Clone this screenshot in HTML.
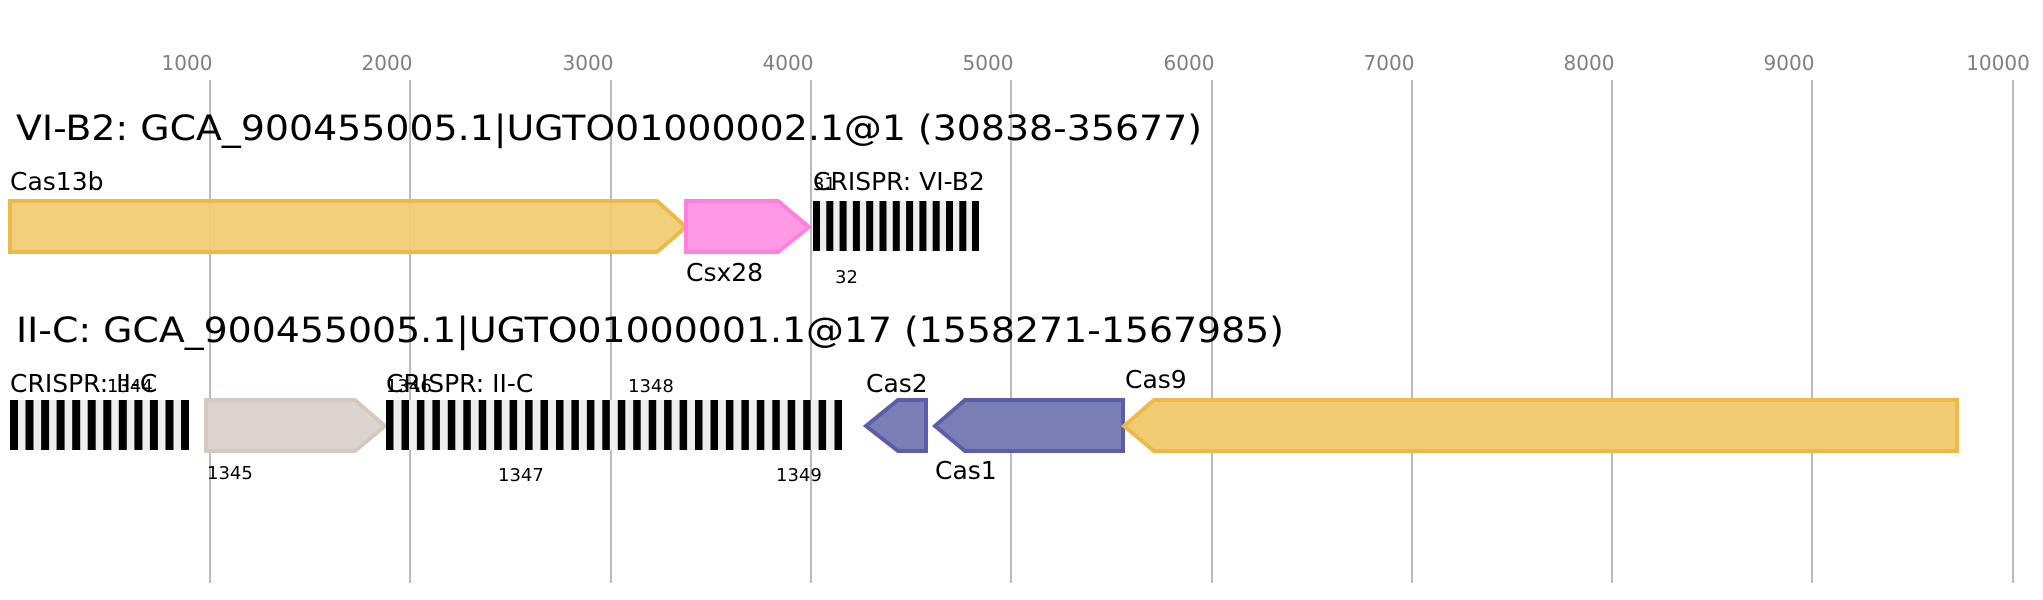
<!DOCTYPE html>
<html><head><meta charset="utf-8"><style>
html,body{margin:0;padding:0;background:#fff;}
svg{display:block;font-family:"DejaVu Sans","Liberation Sans",sans-serif;}
</style></head><body>
<svg width="2043" height="600" viewBox="0 0 2043 600" xmlns="http://www.w3.org/2000/svg">
<g stroke="#bbb" stroke-width="2">
<line x1="210" y1="80" x2="210" y2="583"/><line x1="410" y1="80" x2="410" y2="583"/>
<line x1="611" y1="80" x2="611" y2="583"/><line x1="811" y1="80" x2="811" y2="583"/>
<line x1="1011" y1="80" x2="1011" y2="583"/><line x1="1212" y1="80" x2="1212" y2="583"/>
<line x1="1412" y1="80" x2="1412" y2="583"/><line x1="1612" y1="80" x2="1612" y2="583"/>
<line x1="1812" y1="80" x2="1812" y2="583"/><line x1="2013" y1="80" x2="2013" y2="583"/>
</g>
<g fill="#808080" font-size="20" text-anchor="middle">
<text x="187" y="70">1000</text><text x="387" y="70">2000</text><text x="588" y="70">3000</text>
<text x="788" y="70">4000</text><text x="988" y="70">5000</text><text x="1189" y="70">6000</text>
<text x="1389" y="70">7000</text><text x="1589" y="70">8000</text><text x="1789" y="70">9000</text>
<text x="1998" y="70">10000</text>
</g>
<text x="16" y="140" font-size="35" textLength="1186" lengthAdjust="spacingAndGlyphs">VI-B2: GCA_900455005.1|UGTO01000002.1@1 (30838-35677)</text>
<text x="16" y="342" font-size="35" textLength="1268" lengthAdjust="spacingAndGlyphs">II-C: GCA_900455005.1|UGTO01000001.1@17 (1558271-1567985)</text>

<!-- row 1 -->
<polygon points="10,201 657,201 686,227 657,252 10,252" fill="#f1cc74" fill-opacity="0.95" stroke="#eeba47" stroke-width="4"/>
<polygon points="686,201 778,201 809,227 778,252 686,252" fill="#ff99e6" stroke="#ff80de" stroke-width="4"/>
<rect x="813" y="201" width="166" height="50" fill="#eee"/>
<text x="10" y="190" font-size="25">Cas13b</text>
<text x="686" y="281" font-size="25">Csx28</text>
<text x="813" y="190" font-size="25">CRISPR: VI-B2</text>
<text x="813" y="190" font-size="18">31</text>
<text x="835" y="283" font-size="18">32</text>

<!-- row 2 -->
<rect x="10" y="400" width="179" height="50" fill="#eee"/>
<polygon points="206,400 355,400 385,426 355,451 206,451" fill="#dbd4cf" stroke="#d5c8c0" stroke-width="4"/>
<rect x="386" y="400" width="456" height="50" fill="#eee"/>
<polygon points="926,400 898,400 866,426 898,451 926,451" fill="#7b7db5" stroke="#5a5ea8" stroke-width="4"/>
<polygon points="1123,400 965,400 935,426 965,451 1123,451" fill="#7b7db5" stroke="#5a5ea8" stroke-width="4"/>
<polygon points="1957,400 1154,400 1124,426 1154,451 1957,451" fill="#f1cc74" stroke="#eeba47" stroke-width="4"/>
<text x="10" y="392" font-size="25">CRISPR: II-C</text>
<text x="107" y="392" font-size="18">1344</text>
<text x="207" y="479" font-size="18">1345</text>
<text x="386" y="392" font-size="25">CRISPR: II-C</text>
<text x="386" y="392" font-size="18">1346</text>
<text x="498" y="481" font-size="18">1347</text>
<text x="628" y="392" font-size="18">1348</text>
<text x="776" y="481" font-size="18">1349</text>
<text x="866" y="392" font-size="25">Cas2</text>
<text x="935" y="479" font-size="25">Cas1</text>
<text x="1125" y="388" font-size="25">Cas9</text>

<!-- stripes -->
<g fill="#000">
<rect x="813" y="201" width="7" height="50"/><rect x="826.3" y="201" width="7" height="50"/><rect x="839.6" y="201" width="7" height="50"/><rect x="852.9" y="201" width="7" height="50"/><rect x="866.2" y="201" width="7" height="50"/><rect x="879.5" y="201" width="7" height="50"/><rect x="892.8" y="201" width="7" height="50"/><rect x="906.1" y="201" width="7" height="50"/><rect x="919.4" y="201" width="7" height="50"/><rect x="932.7" y="201" width="7" height="50"/><rect x="946" y="201" width="7" height="50"/><rect x="959.3" y="201" width="7" height="50"/><rect x="972" y="201" width="7" height="50"/>

<rect x="10" y="400" width="8" height="50"/><rect x="25.5" y="400" width="8" height="50"/><rect x="41.1" y="400" width="8" height="50"/><rect x="56.6" y="400" width="8" height="50"/><rect x="72.2" y="400" width="8" height="50"/><rect x="87.7" y="400" width="8" height="50"/><rect x="103.3" y="400" width="8" height="50"/><rect x="118.8" y="400" width="8" height="50"/><rect x="134.4" y="400" width="8" height="50"/><rect x="149.9" y="400" width="8" height="50"/><rect x="165.5" y="400" width="8" height="50"/><rect x="181" y="400" width="8" height="50"/>

<rect x="386" y="400" width="7.5" height="50"/><rect x="401.5" y="400" width="7.5" height="50"/><rect x="416.9" y="400" width="7.5" height="50"/><rect x="432.4" y="400" width="7.5" height="50"/><rect x="447.8" y="400" width="7.5" height="50"/><rect x="463.3" y="400" width="7.5" height="50"/><rect x="478.7" y="400" width="7.5" height="50"/><rect x="494.2" y="400" width="7.5" height="50"/><rect x="509.6" y="400" width="7.5" height="50"/><rect x="525.1" y="400" width="7.5" height="50"/><rect x="540.5" y="400" width="7.5" height="50"/><rect x="556" y="400" width="7.5" height="50"/><rect x="571.4" y="400" width="7.5" height="50"/><rect x="586.9" y="400" width="7.5" height="50"/><rect x="602.3" y="400" width="7.5" height="50"/><rect x="617.8" y="400" width="7.5" height="50"/><rect x="633.2" y="400" width="7.5" height="50"/><rect x="648.7" y="400" width="7.5" height="50"/><rect x="664.1" y="400" width="7.5" height="50"/><rect x="679.6" y="400" width="7.5" height="50"/><rect x="695" y="400" width="7.5" height="50"/><rect x="710.5" y="400" width="7.5" height="50"/><rect x="725.9" y="400" width="7.5" height="50"/><rect x="741.4" y="400" width="7.5" height="50"/><rect x="756.8" y="400" width="7.5" height="50"/><rect x="772.3" y="400" width="7.5" height="50"/><rect x="787.7" y="400" width="7.5" height="50"/><rect x="803.2" y="400" width="7.5" height="50"/><rect x="818.6" y="400" width="7.5" height="50"/><rect x="834.5" y="400" width="7.5" height="50"/>
</g>
</svg>
</body></html>
